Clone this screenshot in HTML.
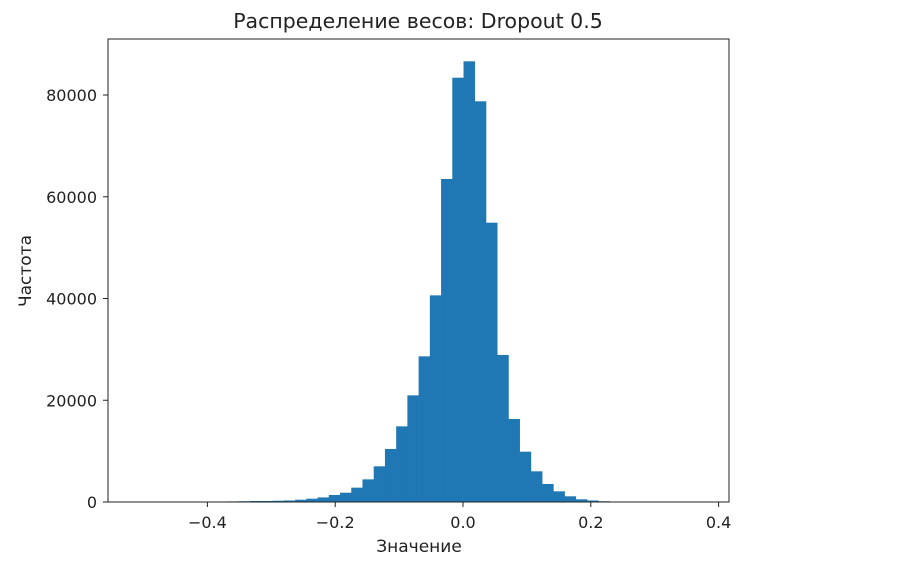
<!DOCTYPE html>
<html><head><meta charset="utf-8"><style>
body{margin:0;background:#fff;}
text{font-family:"DejaVu Sans","Liberation Sans",sans-serif;fill:#222;}
</style></head><body>
<svg id="chart" width="921" height="559" xmlns="http://www.w3.org/2000/svg">
<text x="418" y="28" font-size="20.5" text-anchor="middle">Распределение весов: Dropout 0.5</text>
<g id="bars"></g>
<rect x="108" y="39" width="621" height="463" fill="none" stroke="#222" stroke-width="1"/>
<g id="xticks"></g><g id="yticks"></g>
<text x="419" y="552" font-size="17" text-anchor="middle">Значение</text>
<text transform="translate(31,271) rotate(-90)" font-size="17" text-anchor="middle">Частота</text>
</svg>
<script>
const binStart = -0.5087;
const binWidth = 0.01757;
const counts = [0,0,0,0,0,0,0,100,120,150,200,200,250,300,450,650,900,1380,1830,2820,4450,7010,10420,14870,20960,28630,40620,63490,83400,86620,78760,54900,28900,16310,9890,6030,3540,2100,1120,530,300,150,0,0,0,0,0,0,0,0];
const xTickValues = [-0.4,-0.2,0.0,0.2,0.4];
const xTickLabels = ["−0.4","−0.2","0.0","0.2","0.4"];
const yTickValues = [0,20000,40000,60000,80000];
const yTickLabels = ["0","20000","40000","60000","80000"];

const NS="http://www.w3.org/2000/svg";
function sx(v){return 463+v*639;}
function sy(v){return 502-v/20000*101.75;}
const bars=document.getElementById('bars');
counts.forEach((c,i)=>{
  if(c<=0)return;
  const x0=sx(binStart+i*binWidth), x1=sx(binStart+(i+1)*binWidth);
  const r=document.createElementNS(NS,'rect');
  r.setAttribute('x',x0);r.setAttribute('width',x1-x0+0.3);
  r.setAttribute('y',sy(c));r.setAttribute('height',502-sy(c));
  r.setAttribute('fill','#1f77b4');
  
  
  bars.appendChild(r);
});
const xt=document.getElementById('xticks');
xTickValues.forEach((v,i)=>{
  const x=sx(v);
  const l=document.createElementNS(NS,'line');
  l.setAttribute('x1',x);l.setAttribute('x2',x);l.setAttribute('y1',502);l.setAttribute('y2',507);l.setAttribute('stroke','#222');
  
  
  xt.appendChild(l);
  const t=document.createElementNS(NS,'text');
  t.setAttribute('x',x);t.setAttribute('y',528);t.setAttribute('font-size','16');t.setAttribute('text-anchor','middle');
  t.textContent=xTickLabels[i];
  
  
  xt.appendChild(t);
});
const yt=document.getElementById('yticks');
yTickValues.forEach((v,i)=>{
  const y=sy(v);
  const l=document.createElementNS(NS,'line');
  l.setAttribute('x1',103);l.setAttribute('x2',108);l.setAttribute('y1',y);l.setAttribute('y2',y);l.setAttribute('stroke','#222');
  
  
  yt.appendChild(l);
  const t=document.createElementNS(NS,'text');
  t.setAttribute('x',97);t.setAttribute('y',y+6);t.setAttribute('font-size','16');t.setAttribute('text-anchor','end');
  t.textContent=yTickLabels[i];
  
  
  yt.appendChild(t);
});
</script>
</body></html>
